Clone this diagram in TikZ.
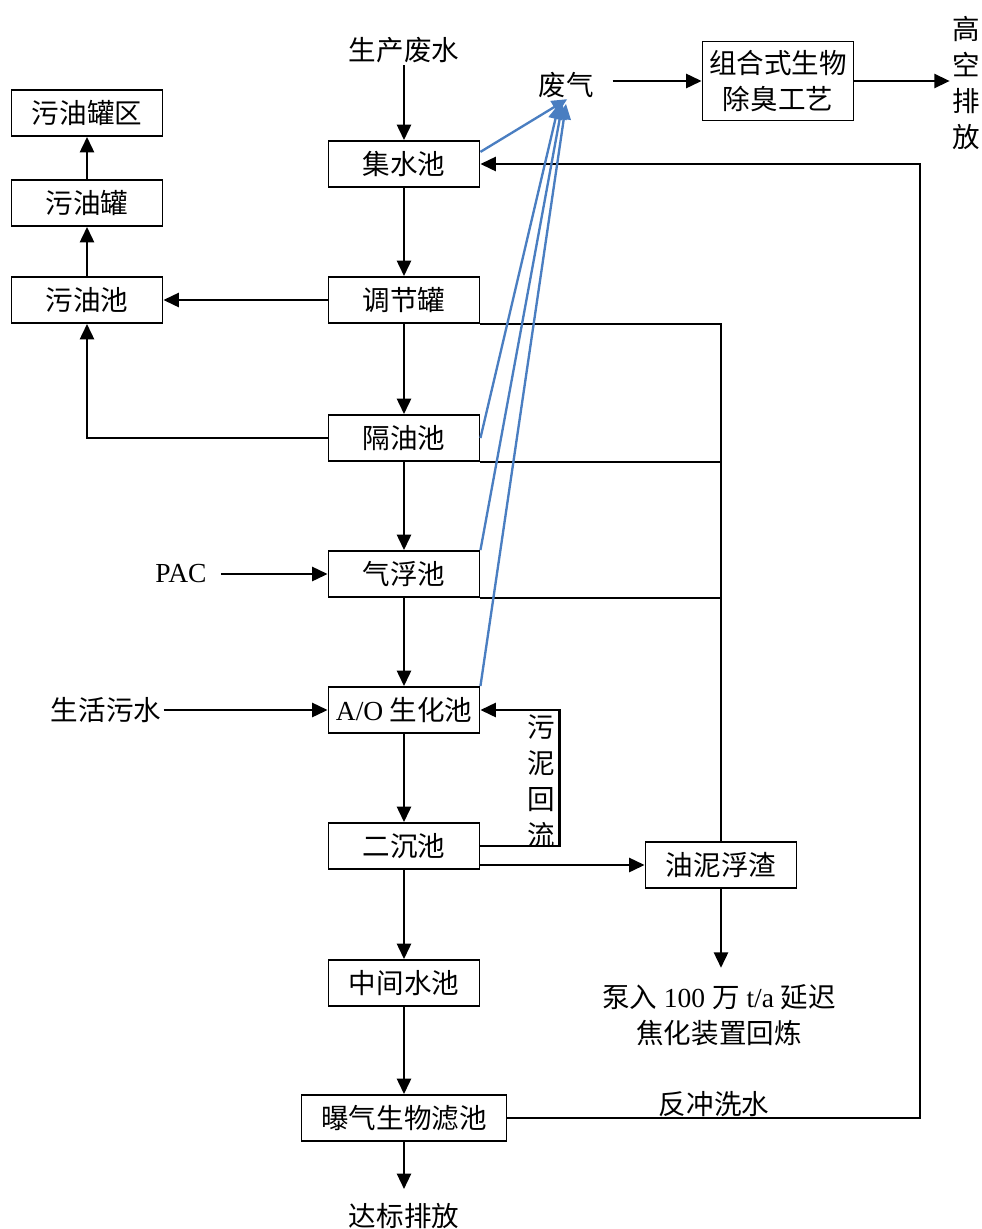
\documentclass[tikz,border=0pt]{standalone}
\usepackage{fontspec}
\setmainfont{Liberation Serif}
\newfontfamily\cjk{Noto Sans CJK SC}
\newfontfamily\lat{Liberation Serif}
\usetikzlibrary{arrows.meta}
\definecolor{gasblue}{RGB}{74,126,193}
\tikzset{
  unit/.style={draw, line width=1.6pt, minimum width=4.53cm, minimum height=1.38cm, inner sep=0pt, align=center},
  txt/.style={inner sep=2pt, align=center},
  flow/.style={-{Triangle[length=0.46cm,width=0.42cm]}, line width=2pt},
  gas/.style={-{Triangle[length=0.46cm,width=0.42cm]}, line width=2pt, draw=gasblue}
}
\begin{document}
\begin{tikzpicture}[x=0.03cm, y=-0.03cm, font=\cjk\fontsize{23.5}{30.6}\selectfont]
        \useasboundingbox (0,0) rectangle (982,1229);
        % --- Parameters ---
        \pgfmathsetmacro{\mx}{404}
        \pgfmathsetmacro{\ox}{87}
        \pgfmathsetmacro{\rr}{920}
        % --- Main line ---
        \node[txt] (src) at (\mx,50) {生产废水};
        \node[unit] (jsc) at (\mx,164) {集水池};
        \node[unit] (tjg) at (\mx,300) {调节罐};
        \node[unit] (gyc) at (\mx,438) {隔油池};
        \node[unit] (qfc) at (\mx,574) {气浮池};
        \node[unit] (ao) at (\mx,710) {{\lat A/O} 生化池};
        \node[unit] (ecc) at (\mx,846) {二沉池};
        \node[unit] (zjsc) at (\mx,983) {中间水池};
        \node[unit, minimum width=6.15cm] (baf) at (\mx,1118) {曝气生物滤池};
        \node[txt] (out) at (\mx,1216) {达标排放};
        \foreach \a/\b in {src/jsc, jsc/tjg, tjg/gyc, gyc/qfc, qfc/ao, ao/ecc, ecc/zjsc, zjsc/baf} {
            \draw[flow] (\a) -- (\b);
        }
        \draw[flow, shorten >=10pt] (baf) -- (out);
        % --- Oil side ---
        \node[unit] (wygq) at (\ox,113) {污油罐区};
        \node[unit] (wyg) at (\ox,203) {污油罐};
        \node[unit] (wyc) at (\ox,300) {污油池};
        \draw[flow] (wyc) -- (wyg);
        \draw[flow] (wyg) -- (wygq);
        \draw[flow] (tjg) -- (wyc);
        \draw[flow] (gyc.west) -| (wyc.south);
        % --- Dosing and domestic water ---
        \node[txt] (pac) at (181,574) {{\lat PAC}};
        \node[txt] (shws) at (106,710) {生活污水};
        \draw[flow, shorten <=10pt] (pac) -- (qfc);
        \draw[flow] (shws) -- (ao);
        % --- Sludge return ---
        \draw[flow] (ecc.east) -- ++(79,0) |- (ao.east);
        \node[txt] (wnhl) at (541,781) {污\\泥\\回\\流};
        % --- Oil sludge and scum ---
        \node[unit] (ymz) at (721,865) {油泥浮渣};
        \node[txt] (coke) at (719,1015) {泵入{\lat\ 100 }万{\lat\ t/a }延迟\\焦化装置回炼};
        \draw[flow] (ecc.east |- ymz) -- (ymz);
        \draw[line width=2pt] (tjg.south east) -| (ymz.north);
        \draw[line width=2pt] (gyc.south east) -- (gyc.south east -| ymz.north);
        \draw[line width=2pt] (qfc.south east) -- (qfc.south east -| ymz.north);
        \draw[flow, shorten >=12pt] (ymz.south) -- (ymz.south |- coke.north);
        % --- Backwash water ---
        \coordinate (bw) at (\rr,1118);
        \draw[flow] (baf.east) -- (bw) |- (jsc.east);
        \node[txt] (bwl) at (714,1104) {反冲洗水};
        % --- Waste gas ---
        \node[txt, inner xsep=16pt] (fq) at (566,85) {废气};
        \node[unit, minimum height=2.37cm] (chb) at (778,81) {组合式生物\\除臭工艺};
        \node[txt] (gk) at (966,83) {高\\空\\排\\放};
        \draw[flow] (chb.west -| fq.east) -- (chb.west);
        \draw[flow] (chb.east) -- (chb.east -| gk.west);
        \draw[gas] (jsc.9) -- ([xshift=1pt,yshift=1pt]fq.south);
        \draw[gas] (gyc.east) -- ([xshift=-6pt,yshift=-3pt]fq.south);
        \draw[gas] (qfc.north east) -- ([xshift=-3pt,yshift=-3pt]fq.south);
        \draw[gas] (ao.north east) -- ([xshift=0pt,yshift=-3pt]fq.south);
\end{tikzpicture}
\end{document}
